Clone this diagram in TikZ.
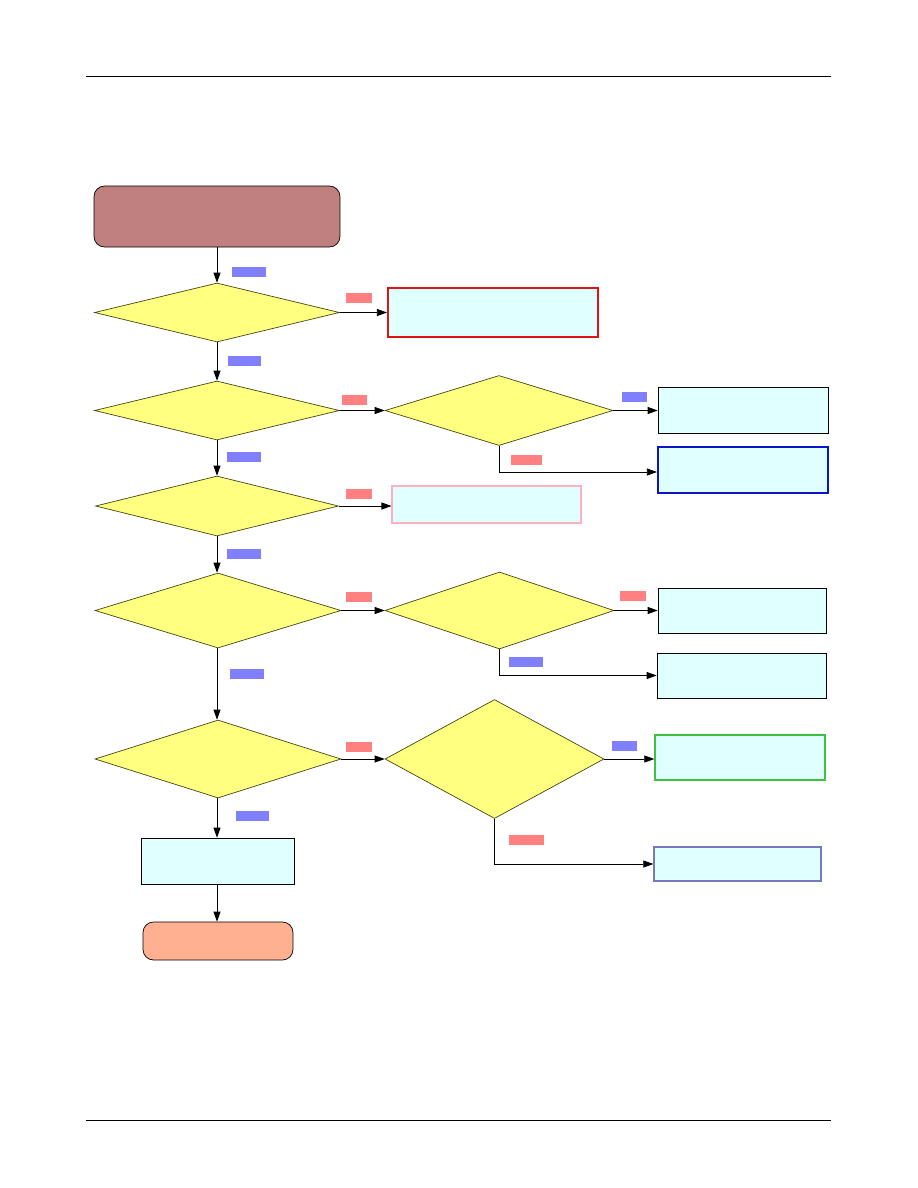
\documentclass[tikz,border=0pt]{standalone}
\usepackage{tikz}
\usetikzlibrary{arrows.meta,shapes.geometric}
\definecolor{startfill}{RGB}{192,128,128}
\definecolor{endfill}{RGB}{255,176,144}
\definecolor{askfill}{RGB}{255,255,128}
\definecolor{askline}{RGB}{70,70,20}
\definecolor{boxfill}{RGB}{224,255,255}
\definecolor{yestag}{RGB}{128,128,255}
\definecolor{notag}{RGB}{255,128,128}
\definecolor{redline}{RGB}{220,20,20}
\definecolor{blueline}{RGB}{10,20,200}
\definecolor{pinkline}{RGB}{255,176,192}
\definecolor{greenline}{RGB}{64,192,64}
\definecolor{violetline}{RGB}{120,120,190}
\tikzset{
  term/.style={draw=black, rounded corners=6pt, thin, inner sep=0pt},
  ask/.style={diamond, draw=askline, fill=askfill, thin, inner sep=0pt},
  act/.style={draw=black, fill=boxfill, thin, inner sep=0pt},
  yes/.style={fill=yestag, inner sep=0pt, minimum height=0.2cm, minimum width=0.68cm},
  no/.style={fill=notag, inner sep=0pt, minimum height=0.2cm, minimum width=0.52cm},
  flow/.style={-{Triangle[length=2mm,width=1.4mm]}, black, thin},
}
\begin{document}
\begin{tikzpicture}[x=0.02cm,y=-0.02cm]
    \useasboundingbox (0,0) rectangle (918,1188);
    % rules at top and bottom of the page
    \draw[black,thin] (86,76) -- (831,76);
    \draw[black,thin] (86,1120) -- (831,1120);
    % main column
    \node[term,fill=startfill,minimum width=4.92cm,minimum height=1.22cm] (start) at (217,216.5) {};
    \node[ask,minimum width=4.9cm,minimum height=1.18cm]  (q1) at (217,312.5) {};
    \node[ask,minimum width=4.9cm,minimum height=1.18cm]  (q2) at (217,410.5) {};
    \node[ask,minimum width=4.86cm,minimum height=1.2cm] (q3) at (217,506) {};
    \node[ask,minimum width=4.92cm,minimum height=1.5cm] (q4) at (218,610.5) {};
    \node[ask,minimum width=4.92cm,minimum height=1.56cm] (q5) at (218,759) {};
    \node[act,minimum width=3.06cm,minimum height=0.92cm] (fix) at (217.5,861) {};
    \node[term,fill=endfill,minimum width=3.0cm,minimum height=0.76cm] (done) at (218,941) {};
    % second column
    \node[ask,minimum width=4.56cm,minimum height=1.4cm]  (q2b) at (499,410.5) {};
    \node[ask,minimum width=4.58cm,minimum height=1.54cm] (q4b) at (499.5,610.5) {};
    \node[ask,minimum width=4.38cm,minimum height=2.38cm] (q5b) at (494.5,759) {};
    % result boxes
    \node[act,draw=redline,very thick,minimum width=4.2cm,minimum height=0.98cm] (r1) at (493,312.5) {};
    \node[act,minimum width=3.4cm,minimum height=0.92cm] (r2a) at (743,410) {};
    \node[act,draw=blueline,very thick,minimum width=3.4cm,minimum height=0.92cm] (r2b) at (743,470) {};
    \node[act,draw=pinkline,semithick,minimum width=3.78cm,minimum height=0.74cm] (r3) at (486.5,504.5) {};
    \node[act,minimum width=3.36cm,minimum height=0.9cm] (r4a) at (742,610.5) {};
    \node[act,minimum width=3.38cm,minimum height=0.9cm] (r4b) at (741.5,675.5) {};
    \node[act,draw=greenline,thick,minimum width=3.4cm,minimum height=0.9cm] (r5a) at (740,757.5) {};
    \node[act,draw=violetline,thick,minimum width=3.34cm,minimum height=0.68cm] (r5b) at (737.5,864) {};
    % connectors
    \draw[flow] (start) -- (q1);
    \draw[flow] (q1) -- (q2);
    \draw[flow] (q2) -- (q3);
    \draw[flow] (q3.south) -- (q4.north -| q3.south);
    \draw[flow] (q4.south -| q3.south) -- (q5.north -| q3.south);
    \draw[flow] (q5.south -| q3.south) -- (fix.north -| q3.south);
    \draw[flow] (fix.south -| q3.south) -- (done.north -| q3.south);
    \draw[flow] (q1.east) -- (r1.west |- q1.east);
    \draw[flow] (q2.east) -- (q2b.west);
    \draw[flow] (q2b.east) -- (r2a.west |- q2b.east);
    \draw[flow] (q2b.south) |- ([yshift=-0.04cm]r2b.west);
    \draw[flow] (q3.east) -- (r3.west |- q3.east);
    \draw[flow] (q4.east) -- (q4b.west);
    \draw[flow] (q4b.east) -- (r4a.west |- q4b.east);
    \draw[flow] (q4b.south) |- (r4b.west);
    \draw[flow] (q5.east) -- (q5b.west);
    \draw[flow] (q5b.east) -- (r5a.west |- q5b.east);
    \draw[flow] (q5b.south) |- (r5b.west);
    % answer tags
    \node[yes] (t1)  at (249,272) {};
    \node[yes] (t2)  at (244.5,361) {};
    \node[yes] (t3)  at (244,457) {};
    \node[yes] (t4)  at (244,554) {};
    \node[yes] (t5)  at (247,674) {};
    \node[yes] (t6)  at (252.5,816) {};
    \node[no]  (t7)  at (359,298) {};
    \node[no]  (t8)  at (354.5,400) {};
    \node[no]  (t9)  at (359,494) {};
    \node[no]  (t10) at (359,597) {};
    \node[no]  (t11) at (359,747) {};
    \node[yes,minimum width=0.5cm] (t12) at (634.5,397) {};
    \node[no,minimum width=0.62cm] (t13) at (526.5,460) {};
    \node[no]  (t14) at (633,596) {};
    \node[yes] (t15) at (526,662) {};
    \node[yes,minimum width=0.5cm] (t16) at (624.5,746) {};
    \node[no,minimum width=0.7cm] (t17) at (526.5,840) {};
\end{tikzpicture}
\end{document}
